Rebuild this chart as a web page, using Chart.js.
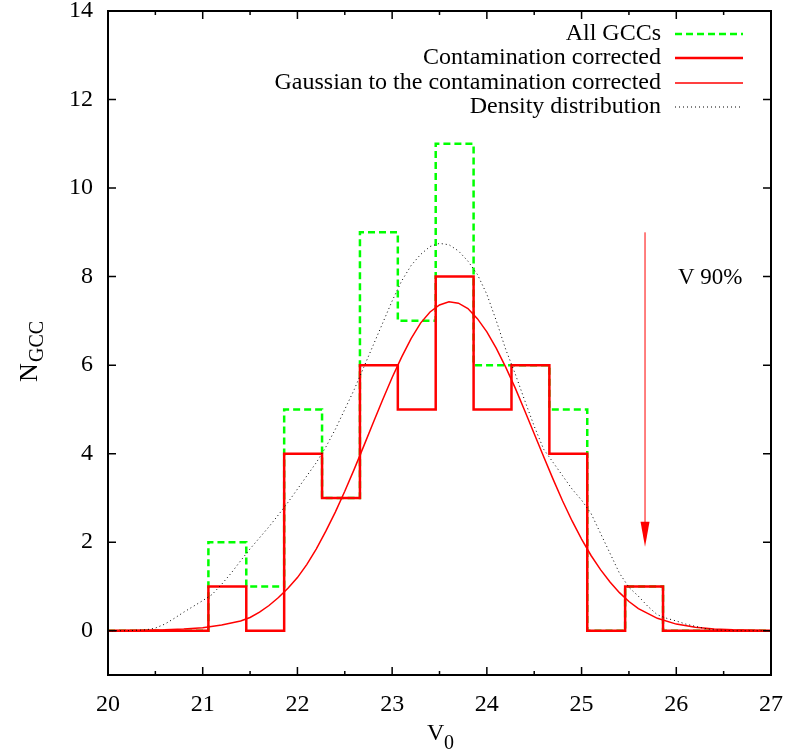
<!DOCTYPE html>
<html>
<head>
<meta charset="utf-8">
<script src="https://cdn.jsdelivr.net/npm/chart.js@4"></script>
<style>
  body { margin: 0; background: #fff; }
  canvas { display: block; }
</style>
</head>
<body>
<canvas id="histChart" width="789" height="751"></canvas>
<script>
// Histogram bins (left edges) and counts
const binEdges = [20, 21.06, 21.46, 21.86, 22.26, 22.66, 23.06, 23.46, 23.86, 24.26, 24.66, 25.06, 25.46, 25.86, 27];
const allGCCs = [0, 2, 1, 5, 3, 9, 7, 11, 6, 6, 5, 0, 1, 0, 0];
const corrected = [0, 1, 0, 4, 3, 6, 5, 8, 5, 6, 4, 0, 1, 0, 0];

// Gaussian fit to the corrected histogram
const gaussX = [20.0, 20.4, 20.6, 20.8, 21.0, 21.2, 21.4, 21.5, 21.6, 21.7, 21.8, 21.9, 22.0, 22.1, 22.2, 22.3, 22.4, 22.5,
  22.6, 22.7, 22.8, 22.9, 23.0, 23.1, 23.2, 23.3, 23.4, 23.5, 23.6, 23.7, 23.8, 23.9, 24.0, 24.1, 24.2, 24.3, 24.4, 24.5,
  24.6, 24.7, 24.8, 24.9, 25.0, 25.1, 25.2, 25.3, 25.4, 25.5, 25.6, 25.8, 26.0, 26.2, 26.4, 26.6, 27.0];
const gaussY = [0, 0.01, 0.02, 0.04, 0.07, 0.13, 0.22, 0.3, 0.42, 0.57, 0.75, 0.96, 1.2, 1.5, 1.85, 2.25, 2.68, 3.15,
  3.65, 4.17, 4.7, 5.22, 5.72, 6.18, 6.6, 6.95, 7.2, 7.36, 7.43, 7.4, 7.28, 7.05, 6.75, 6.38, 5.95, 5.48, 4.97, 4.45,
  3.93, 3.42, 2.93, 2.48, 2.07, 1.7, 1.38, 1.1, 0.86, 0.66, 0.5, 0.28, 0.15, 0.08, 0.04, 0.02, 0];

// Density distribution
const densX = [20.0, 20.2, 20.4, 20.5, 20.6, 20.7, 20.8, 20.9, 21.0, 21.1, 21.2, 21.3, 21.4, 21.5, 21.6, 21.7, 21.8, 21.9,
  22.0, 22.1, 22.2, 22.3, 22.4, 22.5, 22.6, 22.7, 22.8, 22.9, 23.0, 23.1, 23.2, 23.3, 23.4, 23.5, 23.6, 23.7, 23.8, 23.9,
  24.0, 24.1, 24.2, 24.3, 24.4, 24.5, 24.6, 24.7, 24.8, 24.9, 25.0, 25.1, 25.2, 25.3, 25.4, 25.5, 25.6, 25.7, 25.8, 25.9,
  26.0, 26.1, 26.2, 26.3, 26.4, 26.6, 27.0];
const densY = [0, 0, 0.02, 0.06, 0.15, 0.28, 0.42, 0.55, 0.68, 0.82, 1.05, 1.3, 1.58, 1.85, 2.1, 2.35, 2.62, 2.9,
  3.2, 3.5, 3.8, 4.15, 4.55, 5.0, 5.45, 5.95, 6.45, 6.95, 7.45, 7.9, 8.25, 8.5, 8.68, 8.75, 8.72, 8.58, 8.35, 8.05,
  7.6, 7.0, 6.35, 5.8, 5.2, 4.62, 4.1, 3.8, 3.5, 3.2, 2.95, 2.65, 2.2, 1.75, 1.3, 0.98, 0.78, 0.55, 0.36, 0.28,
  0.22, 0.15, 0.1, 0.05, 0.02, 0, 0];

// Axis ticks
const xTicks = [20, 21, 22, 23, 24, 25, 26, 27];
const xMinorTicks = [20.5, 21.5, 22.5, 23.5, 24.5, 25.5, 26.5];
const yTicks = [0, 2, 4, 6, 8, 10, 12, 14];

// V 90% arrow
const arrowX = 25.67;
const arrowFrom = 9;
const arrowTo = 1.9;

const serif = '"Liberation Serif", "DejaVu Serif", serif';

function toPoints(xs, ys) {
  return xs.map((x, i) => ({ x: x, y: ys[i] }));
}

const datasets = [
  {
    label: 'All GCCs',
    data: toPoints(binEdges, allGCCs),
    borderColor: '#00ff00',
    borderWidth: 2.5,
    borderDash: [7, 4],
    stepped: true,
    order: 4
  },
  {
    label: 'Contamination corrected',
    data: toPoints(binEdges, corrected),
    borderColor: '#ff0000',
    borderWidth: 2.5,
    stepped: true,
    order: 3
  },
  {
    label: 'Gaussian to the contamination corrected',
    data: toPoints(gaussX, gaussY),
    borderColor: '#ff0000',
    borderWidth: 1.5,
    order: 2
  },
  {
    label: 'Density distribution',
    data: toPoints(densX, densY),
    borderColor: '#000000',
    borderWidth: 1,
    borderDash: [1, 3],
    order: 1
  }
];

// Frame, inward ticks, legend, arrow and axis titles (gnuplot look)
const decorations = {
  id: 'decorations',
  afterDraw(chart) {
    const ctx = chart.ctx;
    const a = chart.chartArea;
    const xs = chart.scales.x;
    const ys = chart.scales.y;
    ctx.save();

    // ticks on all four sides, pointing in
    ctx.strokeStyle = '#000';
    ctx.lineWidth = 1.5;
    ctx.beginPath();
    xTicks.forEach(v => {
      const px = xs.getPixelForValue(v);
      ctx.moveTo(px, a.bottom); ctx.lineTo(px, a.bottom - 8);
      ctx.moveTo(px, a.top); ctx.lineTo(px, a.top + 8);
    });
    xMinorTicks.forEach(v => {
      const px = xs.getPixelForValue(v);
      ctx.moveTo(px, a.bottom); ctx.lineTo(px, a.bottom - 4);
      ctx.moveTo(px, a.top); ctx.lineTo(px, a.top + 4);
    });
    yTicks.forEach(v => {
      const py = ys.getPixelForValue(v);
      ctx.moveTo(a.left, py); ctx.lineTo(a.left + 8, py);
      ctx.moveTo(a.right, py); ctx.lineTo(a.right - 8, py);
    });
    ctx.stroke();

    // frame
    ctx.lineWidth = 2;
    ctx.strokeRect(a.left, a.top, a.right - a.left, a.bottom - a.top);

    // legend
    ctx.font = '24px ' + serif;
    ctx.fillStyle = '#000';
    ctx.textAlign = 'right';
    ctx.textBaseline = 'middle';
    const rowY = [34, 58, 83, 107];
    datasets.forEach((ds, i) => {
      const y = rowY[i];
      ctx.fillText(ds.label, 661, y);
      ctx.save();
      ctx.strokeStyle = ds.borderColor;
      ctx.lineWidth = ds.borderWidth;
      ctx.setLineDash(ds.borderDash || []);
      ctx.beginPath();
      ctx.moveTo(675, y);
      ctx.lineTo(743, y);
      ctx.stroke();
      ctx.restore();
    });

    // V 90% arrow
    const ax = xs.getPixelForValue(arrowX);
    const ay0 = ys.getPixelForValue(arrowFrom);
    const ay1 = ys.getPixelForValue(arrowTo);
    ctx.strokeStyle = '#ff0000';
    ctx.fillStyle = '#ff0000';
    ctx.lineWidth = 1;
    ctx.beginPath();
    ctx.moveTo(ax, ay0);
    ctx.lineTo(ax, ay1 - 20);
    ctx.stroke();
    ctx.beginPath();
    ctx.moveTo(ax - 4.5, ay1 - 25);
    ctx.lineTo(ax + 4.5, ay1 - 25);
    ctx.lineTo(ax, ay1);
    ctx.closePath();
    ctx.fill();

    ctx.fillStyle = '#000';
    ctx.textAlign = 'left';
    ctx.font = '23px ' + serif;
    ctx.fillText('V 90%', 678, 278);

    // x title V_0
    ctx.textBaseline = 'alphabetic';
    ctx.font = '24px ' + serif;
    ctx.fillText('V', 427, 740);
    ctx.font = '20px ' + serif;
    ctx.fillText('0', 444, 749);

    // y title N_GCC
    ctx.translate(37, 382);
    ctx.rotate(-Math.PI / 2);
    ctx.font = '26px ' + serif;
    ctx.fillText('N', 0, 0);
    ctx.font = '20px ' + serif;
    ctx.fillText('GCC', 20, 6);

    ctx.restore();
  }
};

new Chart(document.getElementById('histChart').getContext('2d'), {
  type: 'line',
  data: { datasets: datasets },
  options: {
    responsive: false,
    animation: false,
    devicePixelRatio: 1,
    layout: { padding: { top: 11, right: 18, left: 0, bottom: 0 } },
    elements: { point: { radius: 0 }, line: { tension: 0, fill: false } },
    plugins: { legend: { display: false }, tooltip: { enabled: false } },
    scales: {
      x: {
        type: 'linear',
        min: 20,
        max: 27,
        afterBuildTicks: s => { s.ticks = xTicks.map(v => ({ value: v })); },
        afterFit: s => { s.height = 76; s.paddingLeft = 0; s.paddingRight = 0; },
        grid: { display: false, drawTicks: false },
        border: { display: false },
        ticks: { color: '#000', font: { family: serif, size: 24 }, padding: 15, maxRotation: 0 }
      },
      y: {
        type: 'linear',
        min: -1,
        max: 14,
        afterBuildTicks: s => { s.ticks = yTicks.map(v => ({ value: v })); },
        afterFit: s => { s.width = 108; s.paddingTop = 0; s.paddingBottom = 0; },
        grid: { display: false, drawTicks: false },
        border: { display: false },
        ticks: { color: '#000', font: { family: serif, size: 24 }, padding: 15 }
      }
    }
  },
  plugins: [decorations]
});
</script>
</body>
</html>
